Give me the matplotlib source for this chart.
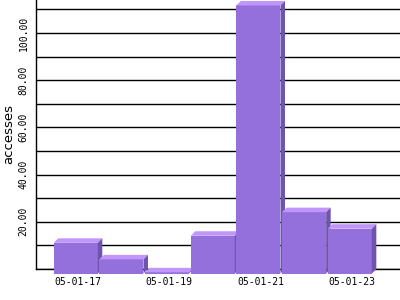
import matplotlib
matplotlib.use('Agg')
import matplotlib.pyplot as plt
from matplotlib.ticker import MultipleLocator, FuncFormatter

days = ['05-01-17', '05-01-18', '05-01-19', '05-01-20', '05-01-21', '05-01-22', '05-01-23']
accesses = [13, 6, 0.5, 16, 113.6, 26, 19]
shown_labels = ['05-01-17', '', '05-01-19', '', '05-01-21', '', '05-01-23']

front_color = '#9370db'
top_color = '#c196fb'
side_color = '#6f54ae'

fig = plt.figure(figsize=(4, 3), dpi=100)
ax = fig.add_axes([36 / 400, 1 - 269 / 300, 364 / 400, 269 / 300])
ax.set_xlim(-0.92, 7.05)
ax.set_ylim(0, 114)

# depth of the fake 3d effect, in pixels -> data units
depth_px = 4.5
p0 = ax.transData.transform((0, 0))
p1 = ax.transData.transform((1, 1))
dx = depth_px / (p1[0] - p0[0])
dy = depth_px / (p1[1] - p0[1])

w = 0.965
for i, v in enumerate(accesses):
    # front face shifted left/down, back face shifted right/up
    fl, fr = i - w / 2 - dx / 2, i + w / 2 - dx / 2
    fb, ft = -dy, v - dy
    z = 3 + i
    ax.fill([fl, fr, fr, fl], [fb, fb, ft, ft], color=front_color, lw=0, zorder=z, clip_on=False)
    ax.fill([fl, fr, fr + dx, fl + dx], [ft, ft, ft + dy, ft + dy], color=top_color, lw=0, zorder=z, clip_on=False)
    ax.fill([fr, fr + dx, fr + dx, fr], [fb, fb + dy, ft + dy, ft], color=side_color, lw=0, zorder=z, clip_on=False)

ax.set_xticks(range(len(days)))
ax.set_xticklabels(shown_labels, fontfamily='DejaVu Sans Mono', fontsize=7)
ax.tick_params(axis='x', length=0, pad=6)

ax.yaxis.set_major_locator(MultipleLocator(20))
ax.yaxis.set_minor_locator(MultipleLocator(10))
ax.yaxis.set_major_formatter(FuncFormatter(lambda v, p: '' if v == 0 else '%.2f' % v))
ax.tick_params(axis='y', which='both', length=0, pad=5.5)
for lab in ax.get_yticklabels():
    lab.set_rotation(90)
    lab.set_va('center')
    lab.set_fontfamily('DejaVu Sans Mono')
    lab.set_fontsize(7)

ax.grid(axis='y', which='both', color='black', lw=1.0)
ax.set_axisbelow(True)

for s in ['top', 'right']:
    ax.spines[s].set_visible(False)
ax.spines['left'].set_linewidth(1.0)
ax.spines['bottom'].set_linewidth(1.0)
ax.spines['left'].set_zorder(2)
ax.spines['bottom'].set_zorder(2)

ax.set_ylabel('accesses', fontsize=9.5, va='center')
ax.yaxis.set_label_coords(-27 / 364, 0.5)

fig.savefig('out.png', dpi=100)
